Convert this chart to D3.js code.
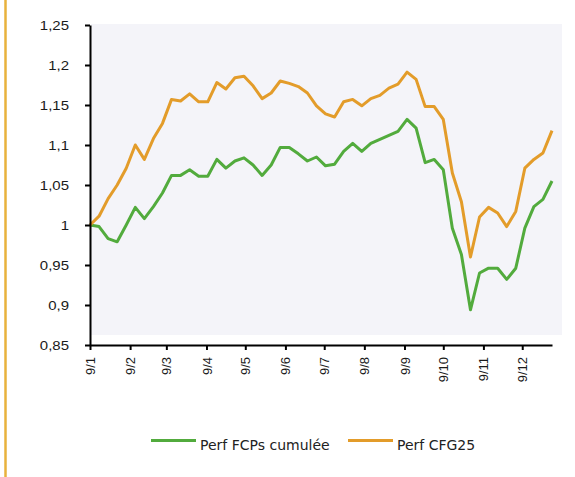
<!DOCTYPE html>
<html>
<head>
<meta charset="utf-8">
<script src="https://cdn.jsdelivr.net/npm/d3@7"></script>
<style>
  html, body { margin: 0; padding: 0; background: #ffffff; }
  svg { display: block; }
</style>
</head>
<body>
<svg id="chart" width="575" height="477"></svg>
<script>
// ---- data ----
const dates = [
  "2009-01-01","2009-01-08","2009-01-15","2009-01-22","2009-01-29",
  "2009-02-05","2009-02-12","2009-02-19","2009-02-26",
  "2009-03-05","2009-03-12","2009-03-19","2009-03-26",
  "2009-04-02","2009-04-09","2009-04-16","2009-04-23","2009-04-30",
  "2009-05-07","2009-05-14","2009-05-21","2009-05-28",
  "2009-06-04","2009-06-11","2009-06-18","2009-06-25",
  "2009-07-02","2009-07-09","2009-07-16","2009-07-23","2009-07-30",
  "2009-08-06","2009-08-13","2009-08-20","2009-08-27",
  "2009-09-03","2009-09-10","2009-09-17","2009-09-24",
  "2009-10-01","2009-10-08","2009-10-15","2009-10-22","2009-10-29",
  "2009-11-05","2009-11-12","2009-11-19","2009-11-26",
  "2009-12-03","2009-12-10","2009-12-17","2009-12-24"
];
const perfFCP = [
  1.000, 0.998, 0.983, 0.979, 1.000, 1.022, 1.008, 1.023, 1.040,
  1.062, 1.062, 1.069, 1.061, 1.061, 1.082, 1.071, 1.080, 1.084,
  1.075, 1.062, 1.075, 1.097, 1.097, 1.089, 1.080, 1.085,
  1.074, 1.076, 1.092, 1.102, 1.092, 1.102, 1.107, 1.112, 1.117,
  1.132, 1.121, 1.078, 1.082, 1.069, 0.996, 0.963, 0.894, 0.940,
  0.946, 0.946, 0.932, 0.946, 0.996, 1.023, 1.032, 1.055
];
const perfCFG = [
  1.000, 1.011, 1.033, 1.050, 1.071, 1.100, 1.082, 1.108, 1.127,
  1.157, 1.155, 1.164, 1.154, 1.154, 1.178, 1.170, 1.184, 1.186,
  1.174, 1.158, 1.165, 1.180, 1.177, 1.173, 1.165, 1.149,
  1.139, 1.135, 1.154, 1.157, 1.149, 1.158, 1.162, 1.171, 1.176,
  1.191, 1.182, 1.148, 1.148, 1.132, 1.065, 1.029, 0.960, 1.010,
  1.022, 1.015, 0.998, 1.017, 1.071, 1.082, 1.090, 1.118
];
const yTicks = [0.85, 0.9, 0.95, 1, 1.05, 1.1, 1.15, 1.2, 1.25];
const seriesNames = ["Perf FCPs cumulée", "Perf CFG25"];
const seriesColors = ["#52ab3d", "#e39c2a"];

// ---- layout ----
const svg = d3.select("#chart");
const parse = d3.timeParse("%Y-%m-%d");
const xDates = dates.map(parse);

const x = d3.scaleTime()
  .domain([xDates[0], xDates[xDates.length - 1]])
  .range([90, 552]);
const y = d3.scaleLinear().domain([0.85, 1.25]).range([345, 25]);

// left golden rule
svg.append("line")
  .attr("x1", 5.5).attr("x2", 5.5).attr("y1", 0).attr("y2", 477)
  .attr("stroke", "#e8b23c").attr("stroke-width", 2.5);

// plot background
svg.append("rect")
  .attr("x", 91).attr("y", 24).attr("width", 471).attr("height", 311)
  .attr("fill", "#f4f4f9");

// lines
const series = [perfFCP, perfCFG];
const line = d3.line()
  .x((d, i) => x(xDates[i]))
  .y(d => y(d));
series.forEach((s, k) => {
  svg.append("path")
    .datum(s)
    .attr("fill", "none")
    .attr("stroke", seriesColors[k])
    .attr("stroke-width", 3)
    .attr("stroke-linejoin", "round")
    .attr("d", line);
});

// y axis
const fmtY = d => String(+d.toFixed(2)).replace(".", ",");
const yAxis = svg.append("g")
  .attr("transform", "translate(90,0)")
  .call(d3.axisLeft(y).tickValues(yTicks).tickFormat(fmtY).tickSize(5).tickPadding(16).tickSizeOuter(0));
yAxis.select(".domain").attr("stroke", "#000").attr("stroke-width", 2);
yAxis.selectAll(".tick line").attr("stroke", "#000").attr("stroke-width", 2);
yAxis.selectAll(".tick text")
  .attr("fill", "#1a1a1a")
  .attr("x", 0)
  .attr("transform", "translate(-21,0) scale(1.17,1)")
  .style("font-family", "'Liberation Sans', Arial, sans-serif")
  .style("font-size", "12.8px");

// x axis
const fmtX = d => `${d.getFullYear() % 10}/${d.getMonth() + 1}`;
const xAxis = svg.append("g")
  .attr("transform", "translate(0,345)")
  .call(d3.axisBottom(x).ticks(d3.timeMonth.every(1)).tickFormat(fmtX).tickSize(5).tickSizeOuter(0));
xAxis.select(".domain").attr("stroke", "#000").attr("stroke-width", 2);
xAxis.selectAll(".tick line").attr("stroke", "#000").attr("stroke-width", 2);
xAxis.selectAll(".tick text")
  .attr("fill", "#1a1a1a")
  .attr("transform", "rotate(-90)")
  .attr("x", -12).attr("y", 0).attr("dy", "0.35em")
  .style("text-anchor", "end")
  .style("font-family", "'Liberation Sans', Arial, sans-serif")
  .style("font-size", "13px");

// legend
const legendItems = [
  { x1: 151, x2: 196, tx: 200 },
  { x1: 348, x2: 393, tx: 397 }
];
legendItems.forEach((it, k) => {
  svg.append("line")
    .attr("x1", it.x1).attr("x2", it.x2).attr("y1", 440.5).attr("y2", 440.5)
    .attr("stroke", seriesColors[k]).attr("stroke-width", 3);
  svg.append("text")
    .attr("x", it.tx).attr("y", 450)
    .attr("fill", "#222")
    .style("font-family", "'DejaVu Sans', sans-serif")
    .style("font-size", "14px")
    .text(seriesNames[k]);
});
</script>
</body>
</html>
